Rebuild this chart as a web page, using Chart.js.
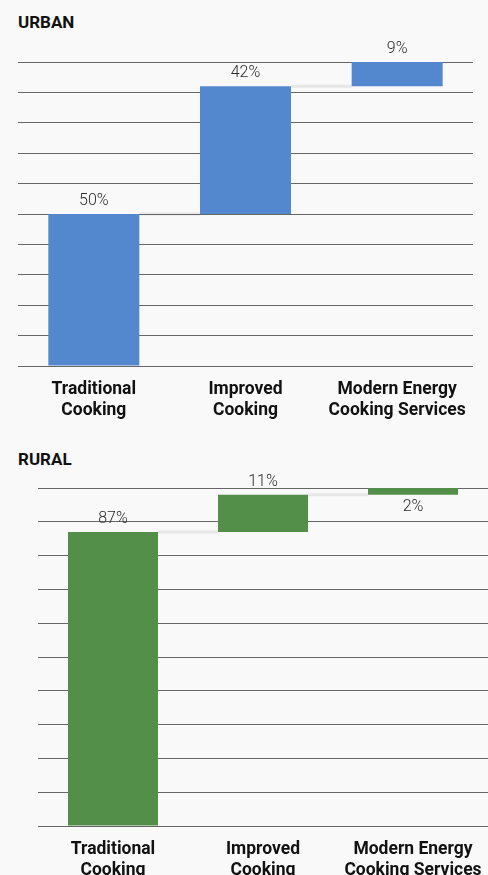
<!DOCTYPE html>
<html>
<head>
<meta charset="utf-8">
<script src="https://cdn.jsdelivr.net/npm/chart.js@4/dist/chart.umd.min.js"></script>
<style>
    html, body { margin: 0; padding: 0; background: #f9f9f9; overflow: hidden; }
    body { width: 488px; height: 875px; position: relative; font-family: Roboto, sans-serif; }
    .panel-title { position: absolute; left: 18px; font-size: 17px; line-height: 20px; font-weight: 700; color: #111; }
    canvas { position: absolute; left: 0; }
</style>
</head>
<body>
<div class="panel-title" style="top: 12px;">URBAN</div>
<canvas id="urbanChart" width="488" height="406" style="top: 30px;"></canvas>
<div class="panel-title" style="top: 449px;">RURAL</div>
<canvas id="ruralChart" width="488" height="426" style="top: 470px;"></canvas>

<script>
const categories = [
    ['Traditional', 'Cooking'],
    ['Improved', 'Cooking'],
    ['Modern Energy', 'Cooking Services']
];
const urbanShares = [50, 42, 9];
const ruralShares = [87, 11, 2];
const yTicks = [0, 10, 20, 30, 40, 50, 60, 70, 80, 90, 100];

// turn step sizes into floating [start, end] bars
function cumulative(values) {
    let total = 0;
    return values.map(v => {
        const seg = [total, total + v];
        total += v;
        return seg;
    });
}

// light grey step lines between neighbouring bars, drawn under the grid
const connectorPlugin = {
    id: 'connectors',
    beforeDraw(chart) {
        const meta = chart.getDatasetMeta(0);
        const y = chart.scales.y;
        const segs = chart.data.datasets[0].data;
        const ctx = chart.ctx;
        ctx.save();
        ctx.strokeStyle = '#e6e6e6';
        ctx.lineWidth = 3;
        for (let i = 0; i < segs.length - 1; i++) {
            const a = meta.data[i], b = meta.data[i + 1];
            if (!a || !b) continue;
            const py = y.getPixelForValue(Math.min(segs[i][1], y.max));
            ctx.beginPath();
            ctx.moveTo(a.x + a.width / 2, py);
            ctx.lineTo(b.x - b.width / 2, py);
            ctx.stroke();
        }
        ctx.restore();
    }
};

// percentage labels above (or below) each bar
const valueLabelPlugin = {
    id: 'valueLabels',
    afterDatasetsDraw(chart) {
        const ds = chart.data.datasets[0];
        const meta = chart.getDatasetMeta(0);
        const area = chart.chartArea;
        const ctx = chart.ctx;
        ctx.save();
        ctx.font = '300 16px Roboto';
        ctx.fillStyle = '#2a2a2a';
        ctx.textAlign = 'center';
        ctx.textBaseline = 'middle';
        meta.data.forEach((bar, i) => {
            const top = Math.max(Math.min(bar.y, bar.base), area.top);
            const bottom = Math.max(bar.y, bar.base);
            const below = ds.labelBelow && ds.labelBelow[i];
            const ty = below ? bottom + 12 : top - 13;
            ctx.fillText(ds.shares[i] + '%', bar.x, ty);
        });
        ctx.restore();
    }
};

function buildChart(id, shares, color, padding, labelBelow) {
    return new Chart(document.getElementById(id), {
        type: 'bar',
        data: {
            labels: categories,
            datasets: [{
                data: cumulative(shares),
                shares: shares,
                labelBelow: labelBelow,
                backgroundColor: color,
                borderWidth: 0,
                categoryPercentage: 1,
                barPercentage: 0.6
            }]
        },
        options: {
            responsive: false,
            animation: false,
            layout: { padding: padding },
            plugins: {
                legend: { display: false },
                tooltip: { enabled: false }
            },
            scales: {
                x: {
                    grid: { display: false },
                    border: { display: false },
                    ticks: {
                        color: '#111',
                        padding: 5,
                        maxRotation: 0,
                        autoSkip: false,
                        font: { family: 'Roboto', size: 17.5, weight: 'bold', lineHeight: 1.2 }
                    }
                },
                y: {
                    min: yTicks[0],
                    max: yTicks[yTicks.length - 1],
                    afterBuildTicks: axis => { axis.ticks = yTicks.map(v => ({ value: v })); },
                    grid: { color: '#666', lineWidth: 1, drawTicks: false },
                    border: { display: false },
                    ticks: { display: false }
                }
            }
        },
        plugins: [connectorPlugin, valueLabelPlugin]
    });
}

buildChart('urbanChart', urbanShares, '#5488ce', { top: 32, left: 18, right: 15, bottom: 10 }, [false, false, false]);
buildChart('ruralChart', ruralShares, '#538f48', { top: 18, left: 38, right: 0, bottom: 10 }, [false, false, true]);
</script>
</body>
</html>
